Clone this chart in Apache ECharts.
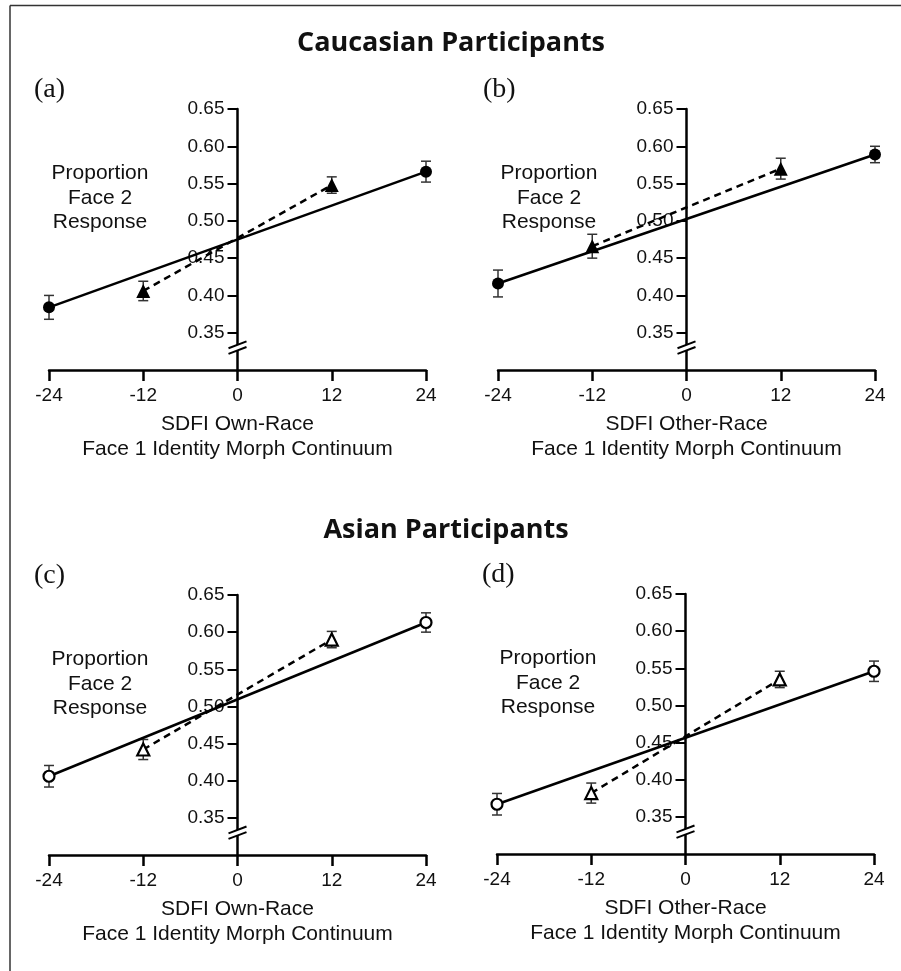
<!DOCTYPE html>
<html>
<head>
<meta charset="utf-8">
<script src="https://cdn.jsdelivr.net/npm/echarts@6/dist/echarts.min.js"></script>
<style>
  html, body { margin: 0; background: #fff; }
  #chart { width: 901px; height: 971px; }
</style>
</head>
<body>
<div id="chart"></div>
<script>
const xTicks = [-24, -12, 0, 12, 24]
const yTicks = [0.35, 0.40, 0.45, 0.50, 0.55, 0.60, 0.65]

// [morph step, proportion, error]
const cauOwnCircle = [[-24, 0.384, 0.016], [24, 0.566, 0.014]]
const cauOwnTri = [[-12, 0.406, 0.013], [12, 0.548, 0.011]]
const cauOtherCircle = [[-24, 0.416, 0.018], [24, 0.589, 0.011]]
const cauOtherTri = [[-12, 0.466, 0.016], [12, 0.570, 0.014]]
const asiOwnCircle = [[-24, 0.406, 0.0145], [24, 0.613, 0.013]]
const asiOwnTri = [[-12, 0.442, 0.0135], [12, 0.590, 0.011]]
const asiOtherCircle = [[-24, 0.367, 0.0145], [24, 0.546, 0.0137]]
const asiOtherTri = [[-12, 0.382, 0.0135], [12, 0.535, 0.011]]

const breakAt = [[0, 0.330]]

const panels = [
  { tag: '(a)', xName: 'SDFI Own-Race', circle: cauOwnCircle, tri: cauOwnTri, filled: true,
    grid: { left: 49, top: 109, width: 377, height: 261 } },
  { tag: '(b)', xName: 'SDFI Other-Race', circle: cauOtherCircle, tri: cauOtherTri, filled: true,
    grid: { left: 498, top: 109, width: 377, height: 261 } },
  { tag: '(c)', xName: 'SDFI Own-Race', circle: asiOwnCircle, tri: asiOwnTri, filled: false,
    grid: { left: 49, top: 595, width: 377, height: 260 } },
  { tag: '(d)', xName: 'SDFI Other-Race', circle: asiOtherCircle, tri: asiOtherTri, filled: false,
    grid: { left: 497, top: 594, width: 377, height: 260 } }
]

const sans = '"Liberation Sans", Arial, sans-serif'

function renderErr(params, api) {
  const x = api.value(0)
  const y = api.value(1)
  const e = api.value(2)
  const top = api.coord([x, y + e])
  const bot = api.coord([x, y - e])
  const w = 5
  const style = { stroke: '#333', lineWidth: 1.5 }
  return {
    type: 'group',
    children: [
      { type: 'line', shape: { x1: top[0], y1: top[1], x2: bot[0], y2: bot[1] }, style },
      { type: 'line', shape: { x1: top[0] - w, y1: top[1], x2: top[0] + w, y2: top[1] }, style },
      { type: 'line', shape: { x1: bot[0] - w, y1: bot[1], x2: bot[0] + w, y2: bot[1] }, style }
    ]
  }
}

function renderBreak(params, api) {
  const p = api.coord([api.value(0), api.value(1)])
  const dx = 9, dy = 3.4, g = 2.8
  const style = { stroke: '#000', lineWidth: 2 }
  return {
    type: 'group',
    children: [
      {
        type: 'polygon',
        shape: { points: [[p[0] - dx, p[1] + dy - g], [p[0] + dx, p[1] - dy - g], [p[0] + dx, p[1] - dy + g], [p[0] - dx, p[1] + dy + g]] },
        style: { fill: '#fff' }
      },
      { type: 'line', shape: { x1: p[0] - dx, y1: p[1] + dy - g, x2: p[0] + dx, y2: p[1] - dy - g }, style },
      { type: 'line', shape: { x1: p[0] - dx, y1: p[1] + dy + g, x2: p[0] + dx, y2: p[1] - dy + g }, style }
    ]
  }
}

const grids = []
const xAxes = []
const yAxes = []
const series = []
const texts = []

panels.forEach((p, i) => {
  grids.push(p.grid)
  xAxes.push({
    type: 'value', gridIndex: i, min: -24, max: 24, interval: 12,
    name: p.xName + '\nFace 1 Identity Morph Continuum',
    nameLocation: 'middle', nameGap: 42,
    nameTextStyle: { fontFamily: sans, fontSize: 21, color: '#111', lineHeight: 25 },
    axisLine: { onZero: false, lineStyle: { color: '#000', width: 2.5 } },
    axisTick: { length: 11, lineStyle: { color: '#000', width: 2.5 } },
    axisLabel: { margin: 16, fontFamily: sans, fontSize: 19, color: '#111' },
    splitLine: { show: false }
  })
  // the y axis sits at x = 0, the middle of the x range
  yAxes.push({
    type: 'value', gridIndex: i, min: 0.30, max: 0.65, interval: 0.05,
    position: 'left', offset: -p.grid.width / 2,
    axisLine: { onZero: false, lineStyle: { color: '#000', width: 2.5 } },
    axisTick: { length: 10, customValues: yTicks, lineStyle: { color: '#000', width: 2 } },
    axisLabel: { margin: 13, customValues: yTicks, fontFamily: sans, fontSize: 19, color: '#111',
      formatter: v => v.toFixed(2) },
    splitLine: { show: false }
  })
  const fill = p.filled ? '#000' : '#fff'
  series.push({
    type: 'custom', xAxisIndex: i, yAxisIndex: i, renderItem: renderErr, z: 3,
    data: p.circle.concat(p.tri)
  })
  series.push({
    type: 'line', xAxisIndex: i, yAxisIndex: i, z: 4,
    data: p.circle.map(d => [d[0], d[1]]),
    symbol: 'circle', symbolSize: p.filled ? 12 : 11,
    itemStyle: { color: fill, borderColor: '#000', borderWidth: p.filled ? 0 : 2.2 },
    lineStyle: { color: '#000', width: 2.5 }
  })
  series.push({
    type: 'line', xAxisIndex: i, yAxisIndex: i, z: 4,
    data: p.tri.map(d => [d[0], d[1]]),
    symbol: 'triangle', symbolSize: p.filled ? 14 : 12,
    itemStyle: { color: fill, borderColor: '#000', borderWidth: p.filled ? 0 : 2.2 },
    lineStyle: { color: '#000', width: 2.5, type: [7, 5] }
  })
  series.push({
    type: 'custom', xAxisIndex: i, yAxisIndex: i, renderItem: renderBreak, z: 5,
    data: breakAt
  })

  const top = p.grid.top
  texts.push({
    type: 'text', x: p.grid.left - 15, y: top - 19,
    style: { text: p.tag, font: '28px "Liberation Serif", "Times New Roman", serif', fill: '#111',
      textAlign: 'left', textVerticalAlign: 'middle' }
  })
  texts.push({
    type: 'text', x: p.grid.left + 51, y: top + 89,
    style: { text: 'Proportion\nFace 2\nResponse', font: '21px ' + sans, fill: '#111', lineHeight: 24.5,
      textAlign: 'center', textVerticalAlign: 'middle' }
  })
})

texts.push({
  type: 'text', x: 451, y: 43,
  style: { text: 'Caucasian Participants', font: 'bold 27px "Open Sans", Lato, sans-serif', fill: '#111',
    textAlign: 'center', textVerticalAlign: 'middle' }
})
texts.push({
  type: 'text', x: 446, y: 530,
  style: { text: 'Asian Participants', font: 'bold 27px "Open Sans", Lato, sans-serif', fill: '#111',
    textAlign: 'center', textVerticalAlign: 'middle' }
})
// frame: only the left and top edges are in view
texts.push({ type: 'line', shape: { x1: 10, y1: 5.5, x2: 10, y2: 971 }, style: { stroke: '#333', lineWidth: 1.5 } })
texts.push({ type: 'line', shape: { x1: 10, y1: 5.5, x2: 901, y2: 5.5 }, style: { stroke: '#333', lineWidth: 1.5 } })

const chart = echarts.init(document.getElementById('chart'))
chart.setOption({
  backgroundColor: '#fff',
  animation: false,
  grid: grids,
  xAxis: xAxes,
  yAxis: yAxes,
  series: series,
  graphic: texts
})
</script>
</body>
</html>
